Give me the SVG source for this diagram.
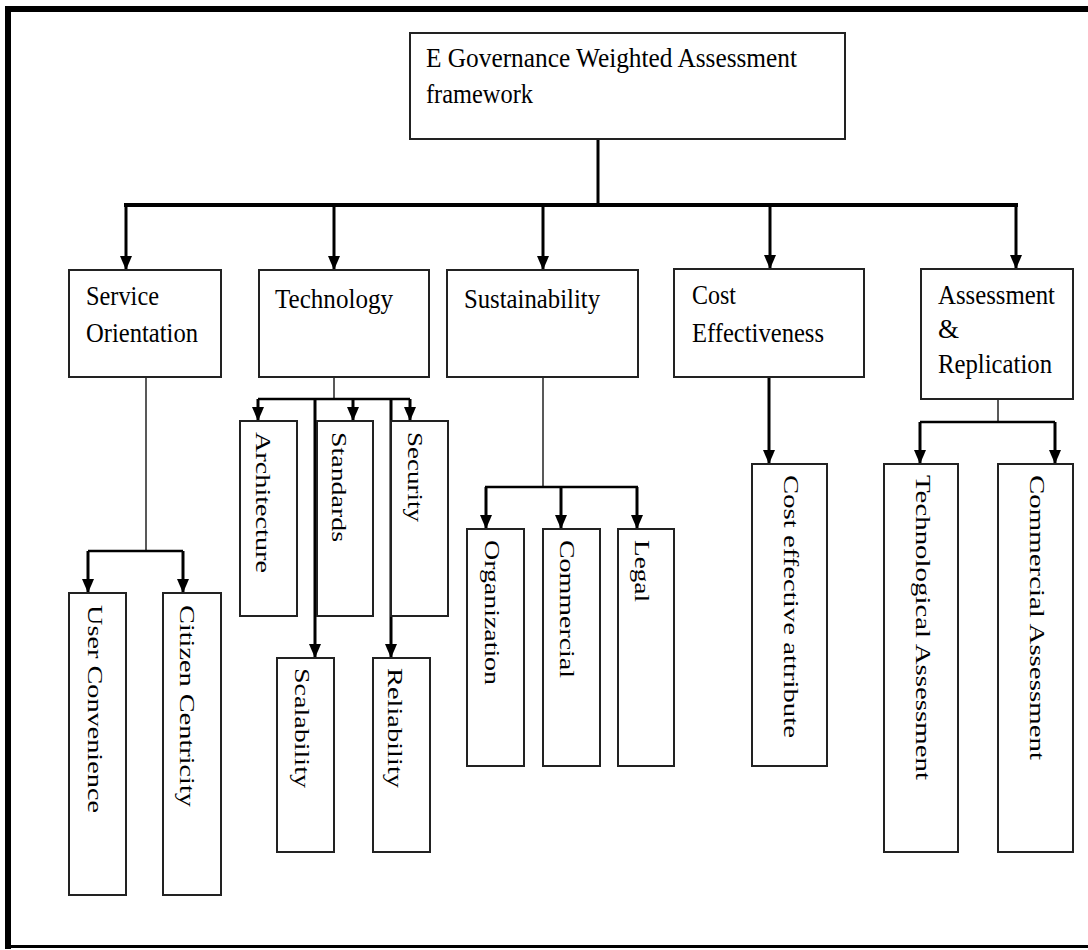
<svg xmlns="http://www.w3.org/2000/svg" width="1088" height="950" viewBox="0 0 1088 950">
<style>
.box{fill:#fff;stroke:#222;stroke-width:2}
.t{font-family:"Liberation Serif","Times New Roman","DejaVu Serif",serif;font-size:27px;fill:#000}
.v{font-family:"Liberation Serif","Times New Roman","DejaVu Serif",serif;font-size:21px;fill:#000}
.thick{stroke:#000;stroke-width:4;fill:none}
.arr{stroke:#000;stroke-width:3;fill:none}
.br{stroke:#000;stroke-width:2.5;fill:none}
.thin{stroke:#222;stroke-width:1.5;fill:none}
</style>
<defs>
<marker id="ah" markerUnits="userSpaceOnUse" markerWidth="14" markerHeight="12" refX="14" refY="6" orient="auto">
<path d="M0,0 L14,6 L0,12 z" fill="#000"/>
</marker>
</defs>
<rect x="0" y="0" width="1088" height="950" fill="#fff"/>
<g id="frame">
<rect x="5" y="6" width="1083" height="6" fill="#000"/>
<rect x="5" y="6" width="6" height="943" fill="#000"/>
<rect x="5" y="945" width="1083" height="3" fill="#000"/>
</g>
<g id="connectors">
<line class="arr" x1="598" y1="139" x2="598" y2="205"/>
<line class="thick" x1="124" y1="205" x2="1018" y2="205"/>
<line class="arr" x1="126" y1="205" x2="126" y2="270" marker-end="url(#ah)"/>
<line class="arr" x1="334" y1="205" x2="334" y2="270" marker-end="url(#ah)"/>
<line class="arr" x1="543" y1="205" x2="543" y2="270" marker-end="url(#ah)"/>
<line class="arr" x1="770" y1="205" x2="770" y2="269" marker-end="url(#ah)"/>
<line class="arr" x1="1016" y1="205" x2="1016" y2="269" marker-end="url(#ah)"/>
<line class="thin" x1="146" y1="377" x2="146" y2="551"/>
<line class="br" x1="88" y1="551" x2="183" y2="551"/>
<line class="arr" x1="88" y1="551" x2="88" y2="593" marker-end="url(#ah)"/>
<line class="arr" x1="183" y1="551" x2="183" y2="593" marker-end="url(#ah)"/>
<line class="thin" x1="334" y1="377" x2="334" y2="399"/>
<line class="br" x1="258" y1="399" x2="410" y2="399"/>
<line class="arr" x1="258" y1="399" x2="258" y2="421" marker-end="url(#ah)"/>
<line class="arr" x1="353" y1="399" x2="353" y2="421" marker-end="url(#ah)"/>
<line class="arr" x1="410" y1="399" x2="410" y2="421" marker-end="url(#ah)"/>
<line class="arr" x1="315" y1="399" x2="315" y2="658" marker-end="url(#ah)"/>
<line class="arr" x1="391" y1="399" x2="391" y2="658" marker-end="url(#ah)"/>
<line class="thin" x1="543" y1="377" x2="543" y2="487"/>
<line class="br" x1="485" y1="487" x2="638" y2="487"/>
<line class="arr" x1="486" y1="487" x2="486" y2="529" marker-end="url(#ah)"/>
<line class="arr" x1="561" y1="487" x2="561" y2="529" marker-end="url(#ah)"/>
<line class="arr" x1="637" y1="487" x2="637" y2="529" marker-end="url(#ah)"/>
<line class="arr" x1="769" y1="377" x2="769" y2="464" marker-end="url(#ah)"/>
<line class="thin" x1="998" y1="399" x2="998" y2="422"/>
<line class="br" x1="920" y1="422" x2="1055" y2="422"/>
<line class="arr" x1="920" y1="422" x2="920" y2="464" marker-end="url(#ah)"/>
<line class="arr" x1="1055" y1="422" x2="1055" y2="464" marker-end="url(#ah)"/>
</g>
<g id="root">
<rect class="box" x="410" y="33" width="435" height="106"/>
<text class="t" x="426" y="67" textLength="371" lengthAdjust="spacingAndGlyphs">E Governance Weighted Assessment</text>
<text class="t" x="426" y="103" textLength="107" lengthAdjust="spacingAndGlyphs">framework</text>
</g>
<g id="service">
<rect class="box" x="69" y="270" width="152" height="107"/>
<text class="t" x="86" y="305" textLength="73" lengthAdjust="spacingAndGlyphs">Service</text>
<text class="t" x="86" y="342" textLength="112" lengthAdjust="spacingAndGlyphs">Orientation</text>
</g>
<g id="technology">
<rect class="box" x="259" y="270" width="170" height="107"/>
<text class="t" x="275" y="308" textLength="118" lengthAdjust="spacingAndGlyphs">Technology</text>
</g>
<g id="sustainability">
<rect class="box" x="447" y="270" width="191" height="107"/>
<text class="t" x="464" y="308" textLength="136" lengthAdjust="spacingAndGlyphs">Sustainability</text>
</g>
<g id="cost">
<rect class="box" x="674" y="269" width="190" height="108"/>
<text class="t" x="692" y="304" textLength="44" lengthAdjust="spacingAndGlyphs">Cost</text>
<text class="t" x="692" y="342" textLength="132" lengthAdjust="spacingAndGlyphs">Effectiveness</text>
</g>
<g id="assessment">
<rect class="box" x="921" y="269" width="152" height="130"/>
<text class="t" x="938" y="304" textLength="117" lengthAdjust="spacingAndGlyphs">Assessment</text>
<text class="t" x="938" y="338">&amp;</text>
<text class="t" x="938" y="373" textLength="114" lengthAdjust="spacingAndGlyphs">Replication</text>
</g>
<g id="user-convenience">
<rect class="box" x="69" y="593" width="57" height="302"/>
<text class="v" transform="translate(88,605) rotate(90)" textLength="208" lengthAdjust="spacingAndGlyphs">User Convenience</text>
</g>
<g id="citizen-centricity">
<rect class="box" x="163" y="593" width="58" height="302"/>
<text class="v" transform="translate(180,605) rotate(90)" textLength="202" lengthAdjust="spacingAndGlyphs">Citizen Centricity</text>
</g>
<g id="architecture">
<rect class="box" x="240" y="421" width="57" height="195"/>
<text class="v" transform="translate(256,432) rotate(90)" textLength="141" lengthAdjust="spacingAndGlyphs">Architecture</text>
</g>
<g id="standards">
<rect class="box" x="317" y="421" width="56" height="195"/>
<text class="v" transform="translate(332,432) rotate(90)" textLength="110" lengthAdjust="spacingAndGlyphs">Standards</text>
</g>
<g id="security">
<rect class="box" x="391" y="421" width="57" height="195"/>
<text class="v" transform="translate(408,432) rotate(90)" textLength="90" lengthAdjust="spacingAndGlyphs">Security</text>
</g>
<g id="scalability">
<rect class="box" x="277" y="658" width="57" height="194"/>
<text class="v" transform="translate(295,668) rotate(90)" textLength="120" lengthAdjust="spacingAndGlyphs">Scalability</text>
</g>
<g id="reliability">
<rect class="box" x="373" y="658" width="57" height="194"/>
<text class="v" transform="translate(388,668) rotate(90)" textLength="120" lengthAdjust="spacingAndGlyphs">Reliability</text>
</g>
<g id="organization">
<rect class="box" x="467" y="529" width="57" height="237"/>
<text class="v" transform="translate(485,540) rotate(90)" textLength="145" lengthAdjust="spacingAndGlyphs">Organization</text>
</g>
<g id="commercial">
<rect class="box" x="543" y="529" width="57" height="237"/>
<text class="v" transform="translate(560,540) rotate(90)" textLength="138" lengthAdjust="spacingAndGlyphs">Commercial</text>
</g>
<g id="legal">
<rect class="box" x="618" y="529" width="56" height="237"/>
<text class="v" transform="translate(635,540) rotate(90)" textLength="62" lengthAdjust="spacingAndGlyphs">Legal</text>
</g>
<g id="cost-attribute">
<rect class="box" x="752" y="464" width="75" height="302"/>
<text class="v" transform="translate(784,475) rotate(90)" textLength="263" lengthAdjust="spacingAndGlyphs">Cost effective attribute</text>
</g>
<g id="technological-assessment">
<rect class="box" x="884" y="464" width="74" height="388"/>
<text class="v" transform="translate(916,475) rotate(90)" textLength="305" lengthAdjust="spacingAndGlyphs">Technological Assessment</text>
</g>
<g id="commercial-assessment">
<rect class="box" x="998" y="464" width="75" height="388"/>
<text class="v" transform="translate(1030,475) rotate(90)" textLength="285" lengthAdjust="spacingAndGlyphs">Commercial Assessment</text>
</g>
</svg>
